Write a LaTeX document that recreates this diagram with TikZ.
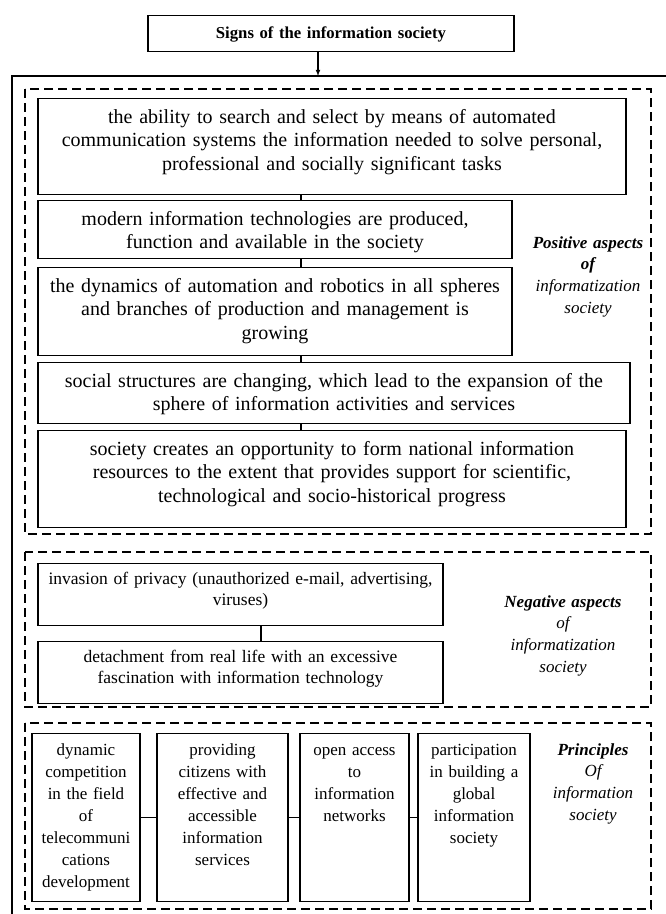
\documentclass[tikz,border=0pt]{standalone}
\usepackage{fontspec}
\setmainfont{Liberation Serif}
\usetikzlibrary{arrows, calc, positioning}

\begin{document}
\begin{tikzpicture}[x=1pt, y=-1pt]
        \useasboundingbox (0, 0) rectangle (666, 914);

        \tikzstyle{box} = [draw, line width=1.1pt, anchor=north, align=center, inner sep=0pt];
        \tikzstyle{big} = [box, font=\fontsize{20}{23.5}\selectfont, text height=24.5pt];
        \tikzstyle{mid} = [box, font=\fontsize{17.5}{21.5}\selectfont, text height=20.5pt, text depth=41pt];
        \tikzstyle{col} = [box, font=\fontsize{17}{22}\selectfont, text height=22pt, text depth=146pt];
        \tikzstyle{lbl} = [anchor=base, align=center, inner sep=0pt, text width=140pt,
            font=\fontsize{17}{21.7}\selectfont\itshape];
        \tikzstyle{dbox} = [draw, line width=1.2pt, dash pattern=on 9pt off 5pt];

        % outer frame and title
        \draw [line width=1.1pt] (666, 76) -- (12, 76) -- (12, 914);
        \node [box, font=\fontsize{16.7}{20}\selectfont\bfseries, text width=366pt,
            text height=23pt, text depth=13pt] (title) at (331, 15) {Signs of the information society};
        \coordinate (fr) at (318, 76);
        \draw [line width=1.1pt, -latex] (title.south -| fr) -- (fr);

        \draw [dbox] (25, 89) rectangle (651, 534);
        \draw [dbox] (25, 552) rectangle (651, 707);
        \draw [dbox] (25, 723) rectangle (651, 909);

        % positive aspects
        \node [big, text width=588pt, text depth=71pt] (A1) at (332, 98)
            {the ability to search and select by means of automated\\
             communication systems the information needed to solve personal,\\
             professional and socially significant tasks};
        \node [big, text width=474pt, text depth=33pt] (A2) at (275, 200)
            {modern information technologies are produced,\\
             function and available in the society};
        \node [big, text width=474pt, text depth=63pt] (A3) at (275, 267)
            {the dynamics of automation and robotics in all spheres\\
             and branches of production and management is\\
             growing};
        \node [big, text width=592pt, text depth=36pt] (A4) at (334, 362)
            {social structures are changing, which lead to the expansion of the\\
             sphere of information activities and services};
        \node [big, text width=588pt, text depth=72pt] (A5) at (332, 430)
            {society creates an opportunity to form national information\\
             resources to the extent that provides support for scientific,\\
             technological and socio-historical progress};

        \coordinate (ac) at (301, 0);
        \foreach \na/\nb in {A1/A2, A2/A3, A3/A4, A4/A5}{
            \draw [line width=1.1pt] (\na.south -| ac) -- (\nb.north -| ac);
        }

        \node [lbl] (pos) at (588, 248)
            {\textbf{Positive aspects}\\ \textbf{of}\\ informatization\\ society};

        % negative aspects
        \node [mid, text width=405pt] (B1) at (240.5, 563)
            {invasion of privacy (unauthorized e-mail, advertising,\\ viruses)};
        \node [mid, text width=405pt] (B2) at (240.5, 641)
            {detachment from real life with an excessive\\
             fascination with information technology};

        \coordinate (bc) at (261, 0);
        \draw [line width=1.1pt] (B1.south -| bc) -- (B2.north -| bc);

        \node [lbl] (neg) at (563, 607)
            {\textbf{Negative aspects}\\ of\\ informatization\\ society};

        % principles
        \node [col, text width=108pt] (P1) at (86, 733)
            {dynamic\\ competition\\ in the field\\ of\\ telecommuni\\ cations\\ development};
        \node [col, text width=131pt] (P2) at (222.5, 733)
            {providing\\ citizens with\\ effective and\\ accessible\\ information\\ services};
        \node [col, text width=109pt] (P3) at (354.5, 733)
            {open access\\ to\\ information\\ networks};
        \node [col, text width=112pt] (P4) at (474, 733)
            {participation\\ in building a\\ global\\ information\\ society};

        \foreach \na/\nb in {1/2, 2/3, 3/4}{
            \draw [line width=1.1pt] (P\na.east) -- (P\nb.west);
        }

        \node [lbl] (prin) at (593, 755)
            {\textbf{Principles}\\ Of\\ information\\ society};
\end{tikzpicture}
\end{document}
